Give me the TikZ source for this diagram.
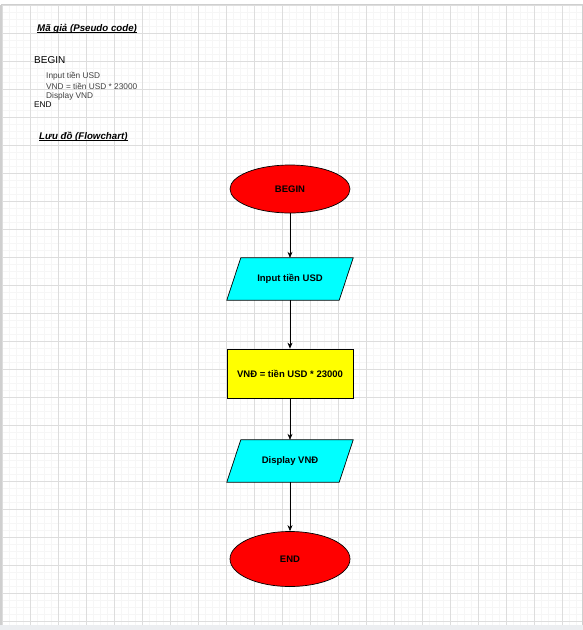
\documentclass[tikz,border=0pt]{standalone}
\usepackage{fontspec}
\setmainfont{Liberation Sans}
\usetikzlibrary{shapes.geometric,arrows.meta,calc}
\definecolor{gridmajor}{HTML}{DDDDDD}
\definecolor{gridminor}{HTML}{F6F6F6}
\definecolor{frameline}{HTML}{CFCFCF}
\definecolor{band}{HTML}{ECEEF1}
\definecolor{flowred}{HTML}{FF0000}
\definecolor{flowcyan}{HTML}{00FFFF}
\definecolor{flowyellow}{HTML}{FFFF00}
\definecolor{codegray}{HTML}{404040}
\begin{document}
\begin{tikzpicture}[x=1pt,y=-1pt,
  minorline/.style={gridminor,line width=0.5pt},
  majorline/.style={gridmajor,line width=0.8pt},
  heading/.style={anchor=base west,inner sep=0pt,font=\fontsize{9.7}{11}\selectfont\bfseries\itshape},
  uline/.style={black,line width=0.8pt},
  codetext/.style={anchor=west,inner sep=0pt,font=\fontsize{8.3}{10}\selectfont,text=codegray},
  codekey/.style={anchor=west,inner sep=0pt,font=\fontsize{8.3}{10}\selectfont},
  terminal/.style={ellipse,draw=black,line width=0.7pt,fill=flowred,inner sep=0pt,minimum width=120pt,font=\fontsize{9.5}{11}\bfseries},
  procbox/.style={rectangle,draw=black,line width=0.7pt,fill=flowyellow,inner sep=0pt,minimum width=126pt,minimum height=49pt,font=\fontsize{9.5}{11}\bfseries},
  iobox/.style={rectangle,inner sep=0pt,minimum width=126pt,minimum height=42pt,font=\fontsize{9.5}{11}\bfseries},
  ioshape/.style={draw=black,line width=0.7pt,fill=flowcyan},
  flow/.style={draw=black,line width=0.7pt,-{Stealth[length=6pt,width=5pt]}}
]
\useasboundingbox (0,0) rectangle (583,630);
\fill[white] (0,0) rectangle (583,630);
% minor grid
\foreach \i in {0,...,82} \draw[minorline] ({2.7+7*\i},5) -- ({2.7+7*\i},625);
\foreach \j in {0,...,88} \draw[minorline] (2,{5.3+7*\j}) -- (582,{5.3+7*\j});
% major grid
\foreach \i in {0,...,20} \draw[majorline] ({2.7+28*\i},5) -- ({2.7+28*\i},625);
\foreach \j in {0,...,22} \draw[majorline] (2,{5.3+28*\j}) -- (582,{5.3+28*\j});
% frame
\fill[band] (0,625) rectangle (583,630);
\draw[frameline,line width=1.5pt] (1,4.5) -- (1,625);
\draw[frameline,line width=1pt] (1,4.5) -- (582.5,4.5);
\draw[frameline,line width=1pt] (582,4.5) -- (582,625);

% pseudo code
\node[heading] (ttl1) at (37,31) {Mã giả (Pseudo code)};
\draw[uline] ($(ttl1.base west)+(0,1.4)$) -- ($(ttl1.base east)+(0,1.4)$);
\node[anchor=west,inner sep=0pt,font=\fontsize{10}{12}\selectfont] (cbegin) at (34,60) {BEGIN};
\node[codetext] (c1) at (46,76.5) {Input tiền USD};
\node[codetext] (c2) at (46,86.5) {VND = tiền USD * 23000};
\node[codetext] (c3) at (46,96) {Display VND};
\node[codekey] (cend) at (34,105) {END};
\node[heading] (ttl2) at (39,139) {Lưu đồ (Flowchart)};
\draw[uline] ($(ttl2.base west)+(0,1.4)$) -- ($(ttl2.base east)+(0,1.4)$);

% flowchart
\node[terminal,minimum height=48pt] (begin) at (290,189) {BEGIN};
\node[iobox] (in) at (290,279) {};
\draw[ioshape] ($(in.north west)+(14,0)$) -- (in.north east) -- ($(in.south east)+(-14,0)$) -- (in.south west) -- cycle;
\node[iobox] (inl) at (290,279) {Input tiền USD};
\node[procbox] (calc) at (290,373.5) {VNĐ = tiền USD * 23000};
\node[iobox] (out) at (290,461) {};
\draw[ioshape] ($(out.north west)+(14,0)$) -- (out.north east) -- ($(out.south east)+(-14,0)$) -- (out.south west) -- cycle;
\node[iobox] (outl) at (290,461) {Display VNĐ};
\node[terminal,minimum height=55pt] (end) at (290,559) {END};

\draw[flow] (begin) -- (in);
\draw[flow] (in) -- (calc);
\draw[flow] (calc) -- (out);
\draw[flow] (out) -- (end);
\end{tikzpicture}
\end{document}
